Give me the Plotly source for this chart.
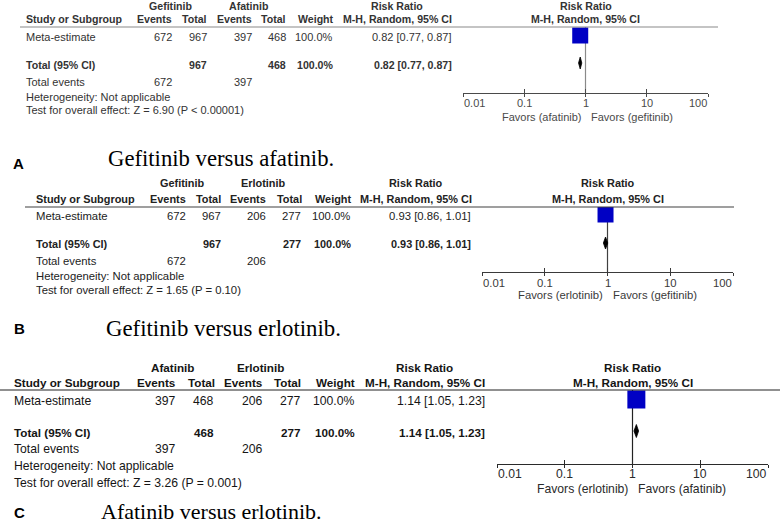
import numpy as np
import plotly.graph_objects as go

# ---------------- data ----------------
PANEL_LETTERS = ["A", "B", "C"]
CAPTIONS = ["Gefitinib versus afatinib.", "Gefitinib versus erlotinib.", "Afatinib versus erlotinib."]
EXP_DRUG = ["Gefitinib", "Gefitinib", "Afatinib"]
CTRL_DRUG = ["Afatinib", "Erlotinib", "Erlotinib"]
STUDY = ["Meta-estimate", "Meta-estimate", "Meta-estimate"]
EXP_EVENTS = [672, 672, 397]
EXP_TOTAL = [967, 967, 468]
CTRL_EVENTS = [397, 206, 206]
CTRL_TOTAL = [468, 277, 277]
WEIGHT = [100.0, 100.0, 100.0]
RR = [0.82, 0.93, 1.14]
CI_LO = [0.77, 0.86, 1.05]
CI_HI = [0.87, 1.01, 1.23]
Z_VALUES = [6.90, 1.65, 3.26]
P_TEXT = ["P &lt; 0.00001", "P = 0.10", "P = 0.001"]
FAVORS_LEFT = ["Favors (afatinib)", "Favors (erlotinib)", "Favors (erlotinib)"]
FAVORS_RIGHT = ["Favors (gefitinib)", "Favors (gefitinib)", "Favors (afatinib)"]
AXIS_TICKS = [0.01, 0.1, 1, 10, 100]
AXIS_TICK_LABELS = ["0.01", "0.1", "1", "10", "100"]
NULL_VALUE = 1
HETEROGENEITY = "Heterogeneity: Not applicable"

# ---------------- layout geometry (pixels) ----------------
W, H = 780, 525
SANS = "Liberation Sans, Arial, sans-serif"
SERIF = "Liberation Serif, Times New Roman, serif"


def px(x):
    return x / W


def py(y):
    return 1 - y / H


GEOM = [
    dict(fs=11.0, bfs=10.6, txt="#333333", ln="#8a8a8a", tick="#4a4a4a",
         study_x=25, hdr1=6, hdr2=19, hline_y=27, hline_x0=20, hline_x1=718,
         grp1_c=170, grp2_c=249, ev1_h=173, tot1_h=208, ev2_h=253, tot2_h=287, wt_h=335, rr_c=397,
         ev1_v=173, tot1_v=208, ev2_v=253, tot2_v=287, wt_v=334, wt_b=335, rr_r=453,
         meta=37, total=65, tev=82, het=97, test=110,
         ax_x0=463, ax_x1=708, ax_y=93, tl_y=103, fav_y=117,
         sq_y=35.5, dia_y=63, sq=16, dia_h=6,
         let_x=12, let_y=163, cap_x=107, cap_y=158, capfs=22.7),
    dict(fs=11.3, bfs=10.9, txt="#222222", ln="#404040", tick="#3a3a3a",
         study_x=35, hdr1=183, hdr2=199, hline_y=207, hline_x0=25, hline_x1=734,
         grp1_c=182, grp2_c=263, ev1_h=187, tot1_h=222, ev2_h=267, tot2_h=303, wt_h=352, rr_c=416,
         ev1_v=187, tot1_v=222, ev2_v=267, tot2_v=302, wt_v=351, wt_b=352, rr_r=472,
         meta=216, total=244, tev=261, het=276, test=290,
         ax_x0=482, ax_x1=733, ax_y=272, tl_y=283, fav_y=295,
         sq_y=214.5, dia_y=243, sq=16, dia_h=6,
         let_x=13, let_y=328, cap_x=105, cap_y=328, capfs=22.8),
    dict(fs=12.2, bfs=11.7, txt="#151515", ln="#222222", tick="#2a2a2a",
         study_x=13, hdr1=367, hdr2=382, hline_y=390, hline_x0=0, hline_x1=780,
         grp1_c=173, grp2_c=260, ev1_h=177, tot1_h=216, ev2_h=264, tot2_h=302, wt_h=356, rr_c=425,
         ev1_v=177, tot1_v=215, ev2_v=264, tot2_v=302, wt_v=355, wt_b=356, rr_r=486,
         meta=401, total=432, tev=449, het=466, test=483,
         ax_x0=497, ax_x1=768, ax_y=464, tl_y=474, fav_y=489,
         sq_y=399.5, dia_y=431, sq=18, dia_h=6.5,
         let_x=13, let_y=512, cap_x=100, cap_y=511, capfs=22.0),
]

fig = go.Figure()
ann = []
shapes = []


def text(s, x, y, size, color, anchor="left", bold=False, family=SANS, xref="paper", xval=None, xshift=0):
    ann.append(dict(
        text=s, x=(px(x) if xval is None else xval), y=py(y), xref=xref, yref="paper",
        xanchor=anchor, yanchor="middle", showarrow=False, xshift=xshift, borderpad=0,
        font=dict(family=family, size=size, color=color, weight=("bold" if bold else "normal")),
    ))


layout_axes = {}
for i in range(3):
    g = GEOM[i]
    n = i + 1
    sfx = "" if n == 1 else str(n)
    xa, ya = f"x{sfx}", f"y{sfx}"
    ov = f"x{n + 3}"
    fs, bfs, c = g["fs"], g["bfs"], g["txt"]

    # ---- table headers ----
    text(EXP_DRUG[i], g["grp1_c"], g["hdr1"], bfs, c, "center", True)
    text(CTRL_DRUG[i], g["grp2_c"], g["hdr1"], bfs, c, "center", True)
    text("Risk Ratio", g["rr_c"], g["hdr1"], bfs, c, "center", True)
    text("Study or Subgroup", g["study_x"], g["hdr2"], bfs, c, "left", True)
    text("Events", g["ev1_h"], g["hdr2"], bfs, c, "right", True)
    text("Total", g["tot1_h"], g["hdr2"], bfs, c, "right", True)
    text("Events", g["ev2_h"], g["hdr2"], bfs, c, "right", True)
    text("Total", g["tot2_h"], g["hdr2"], bfs, c, "right", True)
    text("Weight", g["wt_h"], g["hdr2"], bfs, c, "right", True)
    text("M-H, Random, 95% CI", g["rr_c"], g["hdr2"], bfs, c, "center", True)
    # forest header centred on the null line
    text("Risk Ratio", 0, g["hdr1"], bfs, c, "center", True, xref=xa, xval=np.log10(NULL_VALUE))
    text("M-H, Random, 95% CI", 0, g["hdr2"], bfs, c, "center", True, xref=xa, xval=np.log10(NULL_VALUE))

    shapes.append(dict(type="line", xref="paper", yref="paper",
                       x0=px(g["hline_x0"]), x1=px(g["hline_x1"]), y0=py(g["hline_y"]), y1=py(g["hline_y"]),
                       line=dict(color=g["ln"], width=1.2)))

    rr_txt = f"{RR[i]:.2f} [{CI_LO[i]:.2f}, {CI_HI[i]:.2f}]"
    # ---- study row ----
    text(STUDY[i], g["study_x"], g["meta"], fs, c, "left")
    text(str(EXP_EVENTS[i]), g["ev1_v"], g["meta"], fs, c, "right")
    text(str(EXP_TOTAL[i]), g["tot1_v"], g["meta"], fs, c, "right")
    text(str(CTRL_EVENTS[i]), g["ev2_v"], g["meta"], fs, c, "right")
    text(str(CTRL_TOTAL[i]), g["tot2_v"], g["meta"], fs, c, "right")
    text(f"{WEIGHT[i]:.1f}%", g["wt_v"], g["meta"], fs, c, "right")
    text(rr_txt, g["rr_r"], g["meta"], fs, c, "right")
    # ---- total row ----
    text("Total (95% CI)", g["study_x"], g["total"], bfs, c, "left", True)
    text(str(EXP_TOTAL[i]), g["tot1_v"], g["total"], bfs, c, "right", True)
    text(str(CTRL_TOTAL[i]), g["tot2_v"], g["total"], bfs, c, "right", True)
    text(f"{WEIGHT[i]:.1f}%", g["wt_b"], g["total"], bfs, c, "right", True)
    text(rr_txt, g["rr_r"], g["total"], bfs, c, "right", True)
    # ---- footer rows ----
    text("Total events", g["study_x"], g["tev"], fs, c, "left")
    text(str(EXP_EVENTS[i]), g["ev1_v"], g["tev"], fs, c, "right")
    text(str(CTRL_EVENTS[i]), g["ev2_v"], g["tev"], fs, c, "right")
    text(HETEROGENEITY, g["study_x"], g["het"], fs, c, "left")
    text(f"Test for overall effect: Z = {Z_VALUES[i]:.2f} ({P_TEXT[i]})", g["study_x"], g["test"], fs, c, "left")

    # ---- panel letter + caption ----
    text(PANEL_LETTERS[i], g["let_x"], g["let_y"], 15, "#000000", "left", True)
    text(CAPTIONS[i], g["cap_x"], g["cap_y"], g["capfs"], "#000000", "left", False, family=SERIF)

    # ---- forest axes ----
    d = g["dia_y"] - g["sq_y"]
    v_top = 1 + (g["hline_y"] - g["sq_y"]) / d
    v_bot = 1 + (g["ax_y"] - g["sq_y"]) / d
    xdom = [px(g["ax_x0"]), px(g["ax_x1"])]
    layout_axes[f"xaxis{sfx}"] = dict(
        type="log", range=[-2, 2], domain=xdom, anchor=ya, showline=True, linecolor=g["tick"], linewidth=1.2,
        ticks="inside", ticklen=4, tickwidth=1.2, tickcolor=g["tick"], tickmode="array", tickvals=AXIS_TICKS,
        showticklabels=False, showgrid=False, zeroline=False, fixedrange=True)
    layout_axes[f"xaxis{n + 3}"] = dict(
        type="log", range=[-2, 2], overlaying=xa, anchor=ya, showline=False,
        ticks="outside", ticklen=3, tickwidth=1.2, tickcolor=g["tick"], tickmode="array", tickvals=AXIS_TICKS,
        showticklabels=False, showgrid=False, zeroline=False, fixedrange=True)
    layout_axes[f"yaxis{sfx}"] = dict(
        domain=[py(g["ax_y"]), py(g["hline_y"])], range=[v_bot, v_top], anchor=xa,
        showline=False, showgrid=False, zeroline=False, showticklabels=False, ticks="", fixedrange=True)

    # null line (bottom layer, main axis)
    fig.add_trace(go.Scatter(x=[NULL_VALUE, NULL_VALUE], y=[v_top, v_bot], mode="lines",
                             line=dict(color=g["ln"], width=1.2), xaxis=xa, yaxis=ya,
                             hoverinfo="skip", showlegend=False, cliponaxis=False))
    # CI line of the study
    fig.add_trace(go.Scatter(x=[CI_LO[i], CI_HI[i]], y=[1, 1], mode="lines",
                             line=dict(color="#000000", width=1), xaxis=xa, yaxis=ya,
                             hoverinfo="skip", showlegend=False))
    # study square (upper layer, overlay axis with identical scale)
    fig.add_trace(go.Scatter(x=[RR[i]], y=[1], mode="markers",
                             marker=dict(symbol="square", size=g["sq"], color="#0000C4", line=dict(width=0)),
                             xaxis=ov, yaxis=ya, showlegend=False))
    # pooled diamond
    h = g["dia_h"] / d
    fig.add_trace(go.Scatter(x=[CI_LO[i], RR[i], CI_HI[i], RR[i], CI_LO[i]],
                             y=[2, 2 - h, 2, 2 + h, 2], mode="lines", fill="toself",
                             fillcolor="#000000", line=dict(color="#000000", width=0.8),
                             xaxis=ov, yaxis=ya, showlegend=False, hoverinfo="skip"))

    # tick labels
    for k, (tv, tl) in enumerate(zip(AXIS_TICKS, AXIS_TICK_LABELS)):
        anc = "left" if k == 0 else ("right" if k == len(AXIS_TICKS) - 1 else "center")
        text(tl, 0, g["tl_y"], fs, g["tick"], anc, xref=xa, xval=np.log10(tv))
    # favours labels
    text(FAVORS_LEFT[i], 0, g["fav_y"], fs, g["tick"], "right", xref=xa, xval=np.log10(NULL_VALUE), xshift=-4)
    text(FAVORS_RIGHT[i], 0, g["fav_y"], fs, g["tick"], "left", xref=xa, xval=np.log10(NULL_VALUE), xshift=4)

fig.update_layout(
    width=W, height=H, margin=dict(l=0, r=0, t=0, b=0),
    paper_bgcolor="white", plot_bgcolor="white",
    annotations=ann, shapes=shapes, showlegend=False,
    **layout_axes,
)
fig.write_html("out.html", config={"displayModeBar": False},
               post_script="document.body.style.margin='0';document.body.style.overflow='hidden';")
